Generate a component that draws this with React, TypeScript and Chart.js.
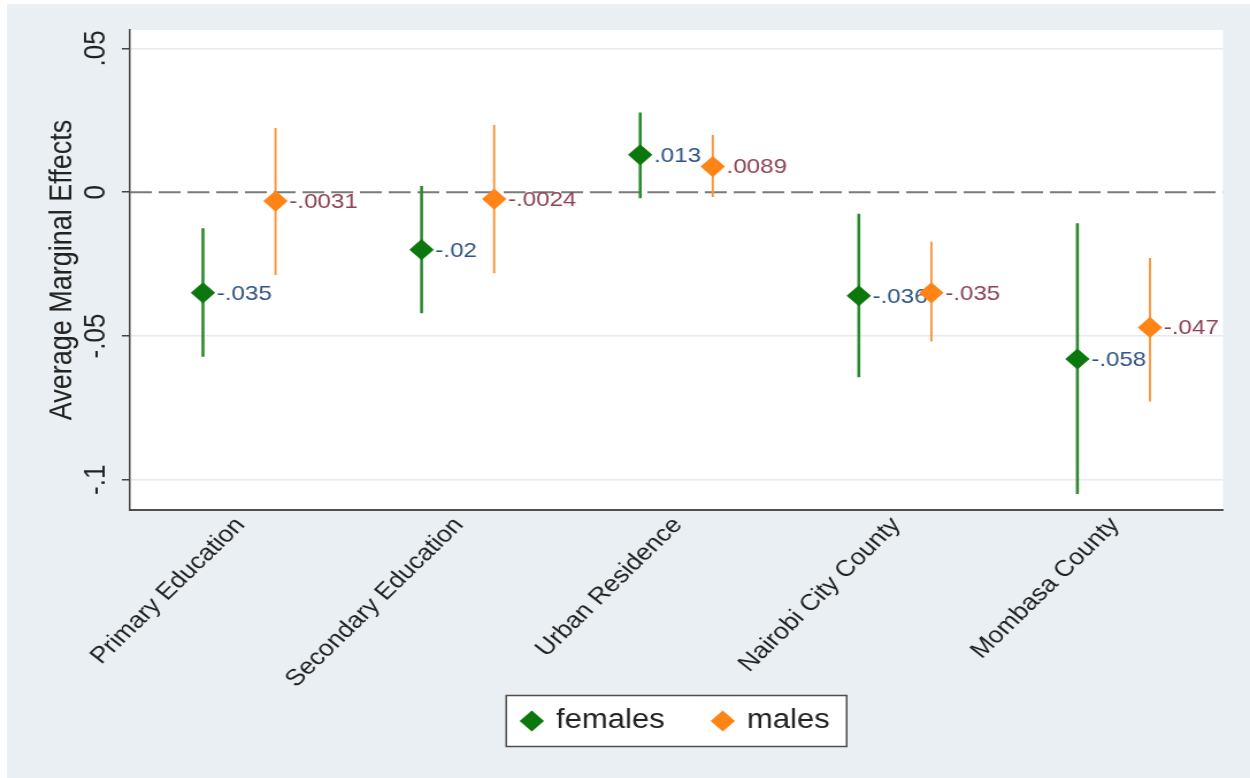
import React, { useEffect, useRef } from "react";
import { Chart, registerables } from "chart.js";

Chart.register(...registerables);

// Covariates on the horizontal axis
const categories = [
  "Primary Education",
  "Secondary Education",
  "Urban Residence",
  "Nairobi City County",
  "Mombasa County",
];

// Average marginal effects with 95% confidence bounds
const femalesEffect = [-0.035, -0.02, 0.013, -0.036, -0.058];
const femalesLow = [-0.0572, -0.0421, -0.0021, -0.0643, -0.1049];
const femalesHigh = [-0.0125, 0.0022, 0.0277, -0.0075, -0.0108];

const malesEffect = [-0.0031, -0.0024, 0.0089, -0.035, -0.047];
const malesLow = [-0.0288, -0.0282, -0.0017, -0.0519, -0.0728];
const malesHigh = [0.0223, 0.0234, 0.0199, -0.0172, -0.0229];

const yTickValues = [-0.1, -0.05, 0, 0.05];

// Stata-style number format: ".05", "-.0031", "0"
const stataNum = (v: number) =>
  v === 0 ? "0" : String(v).replace(/^(-?)0\./, "$1.");

// The drawing surface is widened horizontally when displayed
const STRETCH = 1.15;
const CW = Math.round(1250 / STRETCH);
const CH = 778;
const FONT = "'Liberation Sans', Arial, Helvetica, sans-serif";
const DODGE = 0.166;

const series = [
  {
    label: "females",
    effect: femalesEffect,
    low: femalesLow,
    high: femalesHigh,
    marker: "#0b780d",
    spike: "#2c8a2e",
    spikeWidth: 2.6,
    text: "#2f5585",
    shift: -DODGE,
    order: 1,
  },
  {
    label: "males",
    effect: malesEffect,
    low: malesLow,
    high: malesHigh,
    marker: "#ff8415",
    spike: "#f7953a",
    spikeWidth: 1.9,
    text: "#8e4352",
    shift: DODGE,
    order: 0,
  },
];

const decorPlugin = {
  id: "decor",
  afterLayout(chart: any) {
    // let the slanted category labels run below the axis box
    const xs = chart.scales.x;
    if (xs) xs.bottom = chart.height;
  },
  beforeDraw(chart: any) {
    const { ctx, chartArea: a } = chart;
    ctx.save();
    ctx.fillStyle = "#e9eff2";
    ctx.fillRect(7 / STRETCH, 4, chart.width, chart.height);
    ctx.fillStyle = "#ffffff";
    ctx.fillRect(a.left, a.top, a.right - a.left, a.bottom - a.top);
    // legend frame
    const lg = chart.legend;
    if (lg) {
      const pad = lg.options.labels.padding;
      const fs = lg.options.labels.font.size;
      const cx = (lg.left + lg.right) / 2;
      const cy = lg.top + pad + fs / 2;
      ctx.fillRect(cx - 148, cy - 25.5, 296, 51);
      ctx.strokeStyle = "#4d4d4d";
      ctx.lineWidth = 1.5;
      ctx.strokeRect(cx - 148, cy - 25.5, 296, 51);
    }
    ctx.restore();
  },
  beforeDatasetsDraw(chart: any) {
    const { ctx, chartArea: a, scales } = chart;
    const xs = scales.x;
    const ys = scales.y;
    ctx.save();
    ctx.beginPath();
    ctx.rect(a.left, a.top, a.right - a.left, a.bottom - a.top);
    ctx.clip();
    // reference line at zero
    const y0 = ys.getPixelForValue(0);
    ctx.strokeStyle = "#7a7a7a";
    ctx.lineWidth = 2;
    ctx.setLineDash([19, 6]);
    ctx.beginPath();
    ctx.moveTo(a.left, y0);
    ctx.lineTo(a.right, y0);
    ctx.stroke();
    ctx.setLineDash([]);
    // confidence interval spikes
    series.forEach((s) => {
      ctx.strokeStyle = s.spike;
      ctx.lineWidth = s.spikeWidth;
      s.low.forEach((lo, i) => {
        const px = xs.getPixelForValue(i + s.shift);
        ctx.beginPath();
        ctx.moveTo(px, ys.getPixelForValue(lo));
        ctx.lineTo(px, ys.getPixelForValue(s.high[i]));
        ctx.stroke();
      });
    });
    ctx.restore();
  },
  afterDatasetDraw(chart: any, args: any) {
    const s = series[args.index];
    if (!s) return;
    const { ctx } = chart;
    ctx.save();
    ctx.font = `21px ${FONT}`;
    ctx.fillStyle = s.text;
    ctx.textAlign = "left";
    ctx.textBaseline = "middle";
    args.meta.data.forEach((pt: any, i: number) => {
      ctx.fillText(stataNum(s.effect[i]), pt.x + 12, pt.y + 1);
    });
    ctx.restore();
  },
};

export default function App() {
  const ref = useRef<HTMLCanvasElement>(null);

  useEffect(() => {
    if (!ref.current) return;
    Chart.defaults.font.family = FONT;
    const chart = new Chart(ref.current, {
      type: "scatter",
      data: {
        datasets: series.map((s) => ({
          label: s.label,
          data: s.effect.map((v, i) => ({ x: i + s.shift, y: v })),
          pointStyle: "rectRot",
          pointRadius: 10.6,
          pointHoverRadius: 10.6,
          backgroundColor: s.marker,
          borderColor: s.marker,
          borderWidth: 0,
          order: s.order,
        })),
      },
      options: {
        responsive: false,
        maintainAspectRatio: false,
        animation: false,
        devicePixelRatio: 1,
        events: [],
        layout: {
          padding: { left: 0, top: 30, right: CW - 1063.5, bottom: 33.5 },
        },
        scales: {
          x: {
            type: "linear",
            min: -0.5,
            max: 4.5,
            afterBuildTicks: (axis: any) => {
              axis.ticks = categories.map((_, i) => ({ value: i }));
            },
            afterFit: (scale: any) => {
              scale.height = 154.5;
            },
            grid: { display: false, drawTicks: false },
            border: { display: true, color: "#505050", width: 2 },
            ticks: {
              autoSkip: false,
              minRotation: 48,
              maxRotation: 48,
              padding: 2,
              labelOffset: 1,
              color: "#222222",
              font: { size: 23, family: FONT },
              callback: (v: any) => categories[Math.round(Number(v))] ?? "",
            },
          },
          y: {
            type: "linear",
            min: -0.1105,
            max: 0.0564,
            afterBuildTicks: (axis: any) => {
              axis.ticks = yTickValues.map((v) => ({ value: v }));
            },
            afterFit: (scale: any) => {
              scale.width = 113;
            },
            grid: {
              color: (c: any) =>
                c.tick && c.tick.value === 0 ? "rgba(0,0,0,0)" : "#e5ebee",
              lineWidth: 1.5,
              tickLength: 7,
              tickColor: "#444444",
              tickWidth: 1.5,
            },
            border: { display: true, color: "#444444", width: 1.5 },
            ticks: {
              minRotation: 90,
              maxRotation: 90,
              crossAlign: "center",
              padding: 0,
              color: "#222222",
              font: { size: 26, family: FONT },
              callback: (v: any) => stataNum(Number(v)),
            },
            title: {
              display: true,
              text: "Average Marginal Effects",
              color: "#222222",
              font: { size: 27, family: FONT },
              padding: { top: 38.6, bottom: 0 },
            },
          },
        },
        plugins: {
          tooltip: { enabled: false },
          legend: {
            display: true,
            position: "bottom",
            fullSize: false,
            align: "center",
            labels: {
              usePointStyle: true,
              boxWidth: 15,
              boxHeight: 15,
              padding: 43,
              color: "#222222",
              font: { size: 27, family: FONT },
              sort: (a: any, b: any) => a.datasetIndex - b.datasetIndex,
            },
          },
        },
      },
      plugins: [decorPlugin],
    } as any);
    return () => chart.destroy();
  }, []);

  return (
    <div
      style={{
        position: "absolute",
        left: 0,
        top: 0,
        width: 1250,
        height: 778,
        overflow: "hidden",
      }}
    >
      <canvas
        ref={ref}
        width={CW}
        height={CH}
        style={{ width: "1250px", height: "778px", display: "block" }}
      />
    </div>
  );
}
